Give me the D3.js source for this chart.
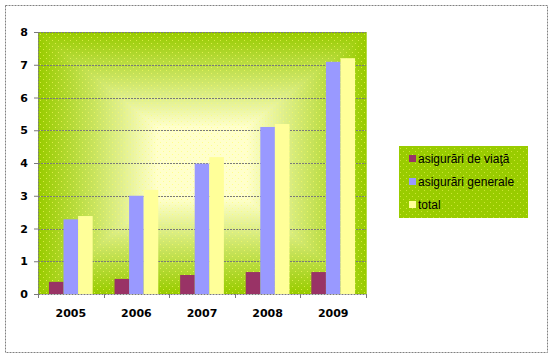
<!DOCTYPE html>
<html><head><meta charset="utf-8">
<script src="https://cdn.jsdelivr.net/npm/d3@7/dist/d3.min.js"></script>
<style>body{margin:0;background:#fff}svg{display:block}</style>
</head><body>
<script>
const years = ["2005","2006","2007","2008","2009"];
const seriesNames = ["asigurări de viaţă","asigurări generale","total"];
const viata = [0.37,0.46,0.58,0.67,0.67];
const generale = [2.28,3.0,3.98,5.1,7.09];
const total = [2.38,3.18,4.18,5.19,7.2];
const yTicks = [0,1,2,3,4,5,6,7,8];
const colors = ["#993366","#9999ff","#ffff99"];

const W=554,H=359;
const svg=d3.select("body").append("svg").attr("width",W).attr("height",H);
const defs=svg.append("defs");
const dots=defs.append("pattern").attr("id","dots").attr("width",6).attr("height",6).attr("patternUnits","userSpaceOnUse");
dots.append("rect").attr("x",1).attr("y",1).attr("width",1).attr("height",1).attr("fill","#ffff66");
dots.append("rect").attr("x",4).attr("y",4).attr("width",1).attr("height",1).attr("fill","#ffff66");

// outer frame
svg.append("rect").attr("x",5.5).attr("y",5.5).attr("width",542).attr("height",347)
  .attr("fill","#fff").attr("stroke","#808080").attr("stroke-dasharray","2,1");

const L=38,T=32,R=366,B=294;
const x=d3.scaleBand().domain(years).range([L,R]);
const y=d3.scaleLinear().domain([0,8]).range([B,T]);
const xs=d3.scaleBand().domain([0,1,2]).range([0,x.bandwidth()]).paddingOuter(0.75).paddingInner(0);

// rectangular path gradient background
const N=60, pw=R-L, ph=B-T;
const ci=d3.interpolateRgb("#99cc00","#ffffcc");
const bg=svg.append("g");
for(let i=0;i<N;i++){
  const f=i/N;
  const t=Math.min(1,f/0.72);
  bg.append("rect").attr("x",L+f*pw/2).attr("y",T+f*ph/2)
    .attr("width",pw*(1-f)).attr("height",ph*(1-f))
    .attr("fill",ci(t));
}
svg.append("rect").attr("x",L).attr("y",T).attr("width",pw).attr("height",ph).attr("fill","url(#dots)").attr("opacity",0.6);

// gridlines
svg.append("g").selectAll("line").data(yTicks.filter(d=>d>0)).join("line")
  .attr("x1",L).attr("x2",R).attr("y1",d=>Math.round(y(d))+0.5).attr("y2",d=>Math.round(y(d))+0.5)
  .attr("stroke","#7a7a7a").attr("stroke-dasharray","2,1");

// bars
const data=[viata,generale,total];
data.forEach((vals,s)=>{
  svg.append("g").selectAll("rect").data(vals).join("rect")
    .attr("x",(d,i)=>x(years[i])+xs(s)).attr("width",xs.bandwidth())
    .attr("y",d=>y(d)).attr("height",d=>B-y(d)).attr("fill",colors[s]);
});

// axes
const yAxis=svg.append("g").attr("transform",`translate(${L},0)`)
  .call(d3.axisLeft(y).tickValues(yTicks).tickSize(4).tickSizeOuter(0));
const xAxis=svg.append("g").attr("transform",`translate(0,${B})`)
  .call(d3.axisBottom(x).tickSize(0).tickSizeOuter(0));
[yAxis,xAxis].forEach(a=>{
  a.select(".domain").attr("stroke","#7a7a7a").attr("stroke-dasharray","2,1");
  a.selectAll("text").attr("font-family","DejaVu Sans, sans-serif").attr("font-weight","bold").attr("font-size","11px").attr("fill","#000");
  a.selectAll(".tick line").attr("stroke","#7a7a7a");
});
yAxis.selectAll("text").attr("x",-10);
xAxis.selectAll("text").attr("dy","0").attr("y",23);
svg.append("g").selectAll("line").data(years.concat(["end"])).join("line")
  .attr("x1",(d,i)=>Math.round(L+i*x.bandwidth())+0.5).attr("x2",(d,i)=>Math.round(L+i*x.bandwidth())+0.5)
  .attr("y1",B).attr("y2",B+4).attr("stroke","#7a7a7a");
svg.append("line").attr("x1",R+0.5).attr("x2",R+0.5).attr("y1",T).attr("y2",B).attr("stroke","#b5d94a");

// legend
const lg=svg.append("g");
lg.append("rect").attr("x",399).attr("y",146).attr("width",129).attr("height",72).attr("fill","#99cc00");
lg.append("rect").attr("x",399).attr("y",146).attr("width",129).attr("height",72).attr("fill","url(#dots)").attr("opacity",0.5);
seriesNames.forEach((n,i)=>{
  const yy=159+i*23;
  lg.append("rect").attr("x",409).attr("y",yy-4).attr("width",7).attr("height",7).attr("fill",colors[i]);
  lg.append("text").attr("x",418).attr("y",yy+4).text(n)
    .attr("font-family","Liberation Sans, Arial, sans-serif").attr("font-size","12px").attr("fill","#000");
});
</script>
</body></html>
